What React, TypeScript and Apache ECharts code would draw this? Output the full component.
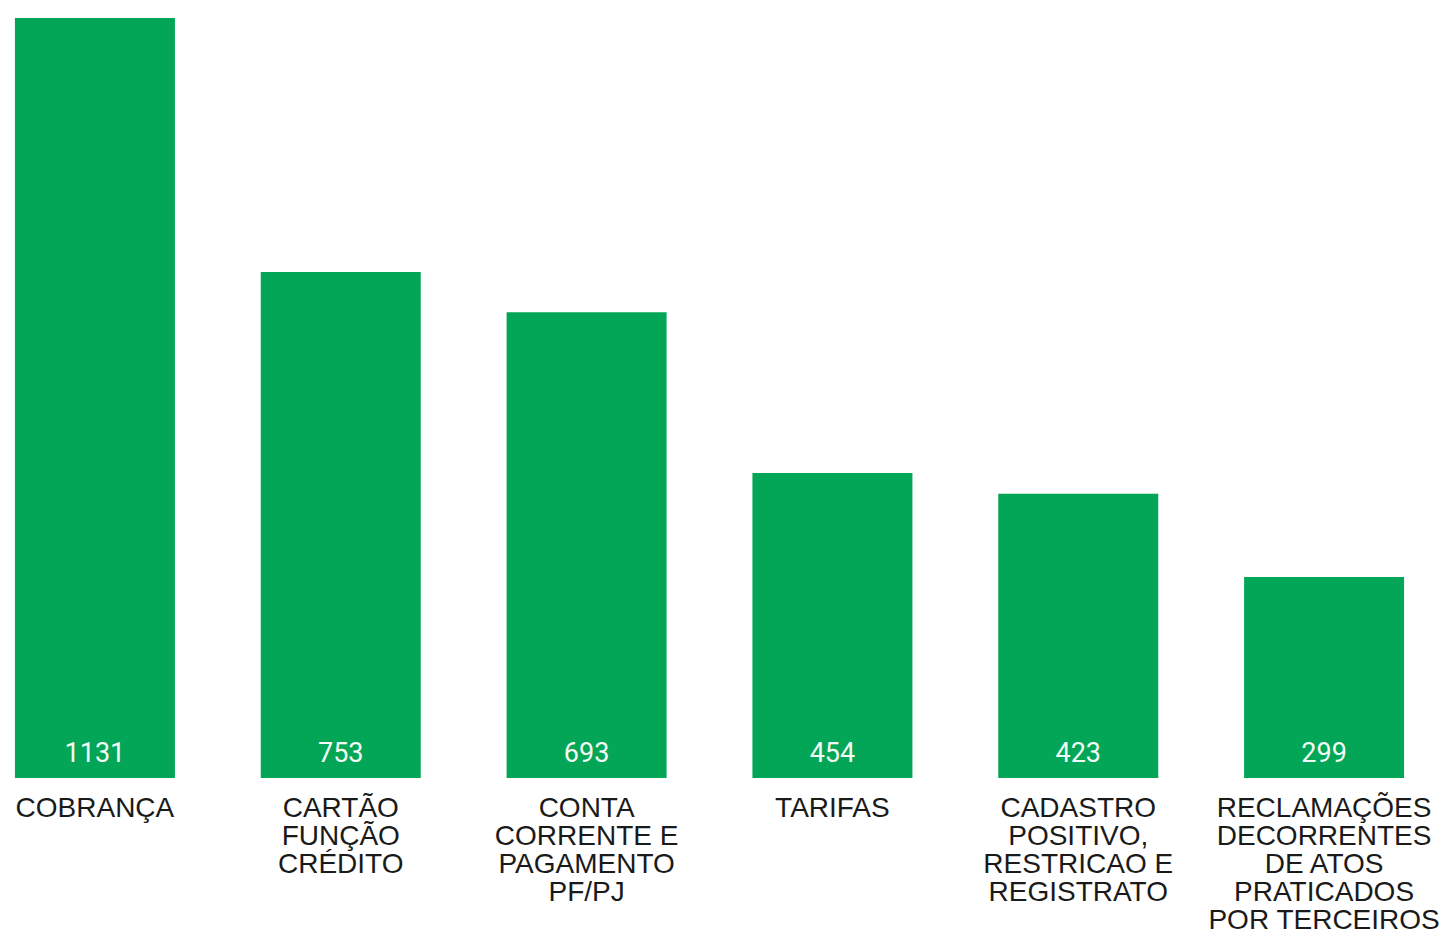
import React, { useEffect, useRef } from "react";
import * as echarts from "echarts";

const categories: string[] = [
  "COBRANÇA",
  "CARTÃO\nFUNÇÃO\nCRÉDITO",
  "CONTA\nCORRENTE E\nPAGAMENTO\nPF/PJ",
  "TARIFAS",
  "CADASTRO\nPOSITIVO,\nRESTRICAO E\nREGISTRATO",
  "RECLAMAÇÕES\nDECORRENTES\nDE ATOS\nPRATICADOS\nPOR TERCEIROS",
];
const values: number[] = [1131, 753, 693, 454, 423, 299];

export default function App() {
  const ref = useRef<HTMLDivElement>(null);
  useEffect(() => {
    if (!ref.current) return;
    const chart = echarts.init(ref.current, undefined, { renderer: "svg" });
    chart.setOption({
      animation: false,
      grid: {
        left: 0,
        right: 0,
        top: 18,
        bottom: 153,
        containLabel: false,
        outerBoundsMode: "none",
      },
      xAxis: {
        type: "category",
        data: categories,
        axisLine: { show: false },
        axisTick: { show: false },
        axisLabel: {
          interval: 0,
          margin: 15,
          fontFamily: "'Liberation Sans', Arial, sans-serif",
          fontSize: 28,
          lineHeight: 28,
          color: "#1a1a1a",
          verticalAlign: "top",
        },
      },
      yAxis: {
        type: "value",
        min: 0,
        max: 1131,
        show: false,
        splitLine: { show: false },
      },
      series: [
        {
          type: "bar",
          data: values,
          barWidth: 160,
          itemStyle: { color: "#03a656" },
          label: {
            show: true,
            position: "insideBottom",
            distance: 12,
            color: "#f2fbf4",
            fontFamily: "Roboto, sans-serif",
            fontSize: 27,
          },
        },
      ],
    });
    return () => chart.dispose();
  }, []);
  return (
    <div
      style={{
        position: "absolute",
        left: 0,
        top: 0,
        width: 1445,
        height: 931,
        overflow: "hidden",
        background: "#ffffff",
      }}
    >
      <div
        ref={ref}
        style={{ position: "absolute", left: -28, top: 0, width: 1475, height: 931 }}
      />
    </div>
  );
}
